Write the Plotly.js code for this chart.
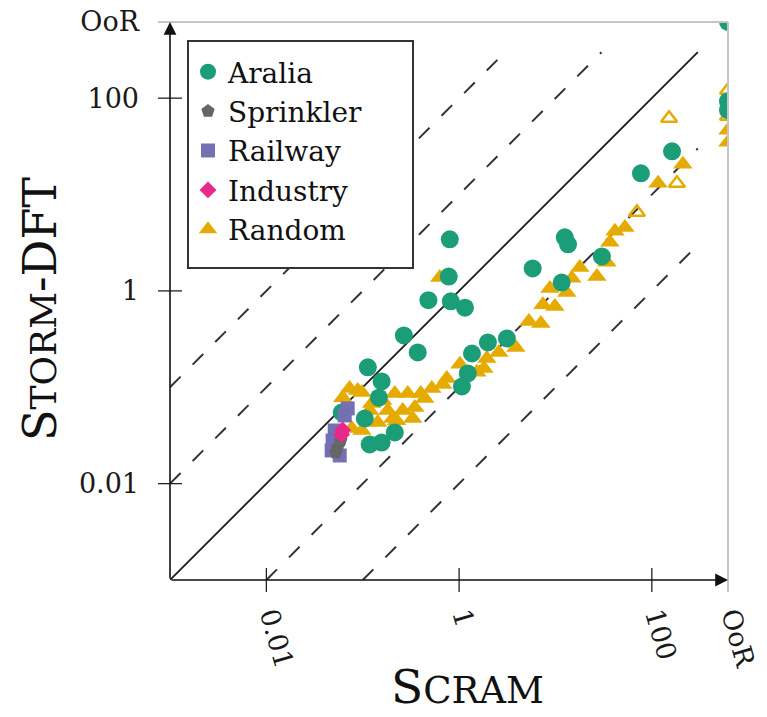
<!DOCTYPE html>
<html><head><meta charset="utf-8">
<script src="https://cdn.plot.ly/plotly-3.0.1.min.js"></script>
<style>html,body{margin:0;padding:0;background:#fff;} #chart{width:767px;height:717px;}</style>
</head><body><div id="chart"></div>
<script>
// "OoR" (out of range) is drawn at this position on both axes
const OOR = 617;
const axisMin = 0.001;
const refLineMax = 300;
const tickVals = [0.01, 1, 100, OOR];
const tickText = ['0.01', '1', '100', 'OoR'];
const refFactors = [100, 10, 1, 0.1, 0.01];

// Aralia
const araliaX = [OOR, OOR, OOR, 162, 77, 12.5, 13.5, 30.3, 5.8, 11.6, 0.80, 0.78, 0.48, 0.82, 1.15,
  0.267, 0.372, 0.113, 0.157, 0.147, 0.0605, 0.105, 0.215, 0.118, 0.157, 1.99, 3.13, 1.36, 1.23, 1.07];
const araliaY = [OOR, 93, 75, 28.1, 16.6, 3.6, 3.04, 2.28, 1.71, 1.22, 3.43, 1.41, 0.80, 0.78, 0.67,
  0.345, 0.23, 0.161, 0.115, 0.078, 0.0547, 0.0474, 0.034, 0.0255, 0.0267, 0.292, 0.321, 0.224, 0.139, 0.102];

// Sprinkler
const sprinklerX = [0.055, 0.0525, 0.0592];
const sprinklerY = [0.0237, 0.021, 0.028];

// Railway
const railwayX = [0.0698, 0.065, 0.0512, 0.0487, 0.0476, 0.0577];
const railwayY = [0.0603, 0.051, 0.0356, 0.028, 0.0221, 0.0196];

// Industry
const industryX = [0.0605, 0.062];
const industryY = [0.0324, 0.036];

// Random (solved)
const randomX = [210, 116, 52.6, 41.4, 36.7, 34.2, 17.9, 14.8, 26.9, 8.75, 13.1, 7.4, 9.86, 5.3, 7.05,
  3.88, 2.58, 1.94, 1.81, 1.02, 1.53, 0.745, 0.678, 0.521, 0.40, 0.293, 0.215, 0.161, 0.124, 0.098,
  0.073, 0.062, 0.347, 0.26, 0.182, 0.118, 0.33, 0.225, 0.143, 0.098, 0.077, 0.205, 0.0887, 0.44, 0.63,
  OOR, OOR];
const randomY = [20.6, 13.1, 4.56, 4.15, 3.19, 1.98, 1.75, 1.35, 1.41, 1.06, 0.96, 0.72, 0.69, 0.48, 0.46,
  0.259, 0.23, 0.199, 0.157, 0.173, 0.143, 0.123, 0.107, 0.097, 0.086, 0.086, 0.086, 0.073, 0.068, 0.088,
  0.097, 0.078, 0.0617, 0.0574, 0.0574, 0.0574, 0.0474, 0.045, 0.043, 0.0356, 0.0373, 0.0474, 0.0927, 0.0766, 1.38,
  46.4, 34.8];

// Random (open markers)
const randomOpenX = [151, 182, 70, OOR, OOR];
const randomOpenY = [61.8, 13.1, 6.53, 121, 64.9];

const FONT = 'DejaVu Serif';
const colors = {aralia: '#1b9e77', sprinkler: '#666666', railway: '#7570b3', industry: '#e7298a', random: '#e6ab02'};

const traces = [];
refFactors.forEach(k => {
  const x0 = k >= 1 ? axisMin : axisMin / k;
  const y0 = k >= 1 ? axisMin * k : axisMin;
  const x1 = k >= 1 ? refLineMax / k : refLineMax;
  const y1 = k >= 1 ? refLineMax : refLineMax * k;
  traces.push({x: [x0, x1], y: [y0, y1], mode: 'lines', showlegend: false, hoverinfo: 'skip',
    line: {color: k === 1 ? '#1a1a1a' : '#333', width: k === 1 ? 1.8 : 2, dash: k === 1 ? 'solid' : '15px,17px'}});
});
traces.push({name: 'Random', x: randomX, y: randomY, mode: 'markers', legendrank: 5,
  marker: {symbol: 'triangle-up', size: 17, color: colors.random, line: {width: 0}}});
traces.push({name: 'Random', x: randomOpenX, y: randomOpenY, mode: 'markers', showlegend: false,
  marker: {symbol: 'triangle-up-open', size: 14, color: colors.random, line: {width: 2.5, color: colors.random}}});
traces.push({name: 'Aralia', x: araliaX, y: araliaY, mode: 'markers', legendrank: 1,
  marker: {symbol: 'circle', size: 18, color: colors.aralia, line: {width: 0}}});
traces.push({name: 'Railway', x: railwayX, y: railwayY, mode: 'markers', legendrank: 3,
  marker: {symbol: 'square', size: 14, color: colors.railway, line: {width: 0}}});
traces.push({name: 'Sprinkler', x: sprinklerX, y: sprinklerY, mode: 'markers', legendrank: 2,
  marker: {symbol: 'pentagon', size: 14, color: colors.sprinkler, line: {width: 0}}});
traces.push({name: 'Industry', x: industryX, y: industryY, mode: 'markers', legendrank: 4,
  marker: {symbol: 'diamond', size: 13, color: colors.industry, line: {width: 0}}});

const W = 558, H = 558;
const tl = 12;
const px2x = p => (p - 170) / W;
const px2y = p => (580 - p) / H;
const shapes = [
  {type: 'line', xref: 'paper', yref: 'paper', x0: -tl / W, x1: 1, y0: 1, y1: 1, line: {color: '#c6c6c6', width: 2}},
  {type: 'line', xref: 'paper', yref: 'paper', x0: 1, x1: 1, y0: -tl / H, y1: 1, line: {color: '#c6c6c6', width: 2}},
  // legend frame
  {type: 'rect', xref: 'paper', yref: 'paper', x0: px2x(188), x1: px2x(413), y0: px2y(268), y1: px2y(41),
    fillcolor: '#fff', line: {color: '#333', width: 2}, layer: 'above'}
];
tickVals.forEach(v => {
  if (v === OOR) return;
  shapes.push({type: 'line', xref: 'x', yref: 'paper', x0: v, x1: v, y0: -tl / H, y1: tl / H, line: {color: '#222', width: 1.3}});
  shapes.push({type: 'line', xref: 'paper', yref: 'y', y0: v, y1: v, x0: -tl / W, x1: tl / W, line: {color: '#222', width: 1.3}});
});

const annotations = [
  {xref: 'paper', yref: 'paper', x: 1, y: 0, ax: -W, ay: 0, axref: 'pixel', ayref: 'pixel', text: '', showarrow: true,
    arrowhead: 2, arrowsize: 1.6, arrowwidth: 1.6, arrowcolor: '#111'},
  {xref: 'paper', yref: 'paper', x: 0, y: 1, ax: 0, ay: H, axref: 'pixel', ayref: 'pixel', text: '', showarrow: true,
    arrowhead: 2, arrowsize: 1.6, arrowwidth: 1.6, arrowcolor: '#111'},
  {xref: 'paper', yref: 'paper', x: px2x(467), y: px2y(715), xanchor: 'center', yanchor: 'bottom', showarrow: false,
    borderpad: 0, text: 'S<span style="font-size:37px">CRAM</span>', font: {family: FONT, size: 47, color: '#111'}},
  {xref: 'paper', yref: 'paper', x: px2x(40), y: px2y(309), xanchor: 'center', yanchor: 'middle', showarrow: false,
    textangle: -90, text: 'S<span style="font-size:36px">TORM</span>-DFT', font: {family: FONT, size: 46, color: '#111'}}
];

const axisCommon = {
  type: 'log', range: [Math.log10(axisMin), Math.log10(OOR)], tickmode: 'array', tickvals: tickVals, ticktext: tickText,
  ticks: '', showgrid: false, zeroline: false, showline: false, ticklabeloverflow: 'allow',
  tickfont: {family: FONT, size: 27, color: '#1a1a1a'}
};

const layout = {
  width: 767, height: 717,
  margin: {l: 170, r: 39, t: 22, b: 137},
  paper_bgcolor: '#fff', plot_bgcolor: '#fff',
  xaxis: Object.assign({}, axisCommon, {tickangle: 74, ticklabelstandoff: 14, ticklabelshift: 6,
    tickfont: {family: FONT, size: 27, color: '#1a1a1a'}}),
  yaxis: Object.assign({}, axisCommon, {ticklabelstandoff: 30}),
  showlegend: true,
  legend: {x: px2x(188), y: px2y(47), xanchor: 'left', yanchor: 'top', bgcolor: 'rgba(0,0,0,0)', borderwidth: 0,
    font: {family: FONT, size: 28, color: '#111'}, itemsizing: 'trace', traceorder: 'normal'},
  shapes: shapes,
  annotations: annotations
};

Plotly.newPlot('chart', traces, layout, {staticPlot: true, displayModeBar: false});
</script>
</body></html>
